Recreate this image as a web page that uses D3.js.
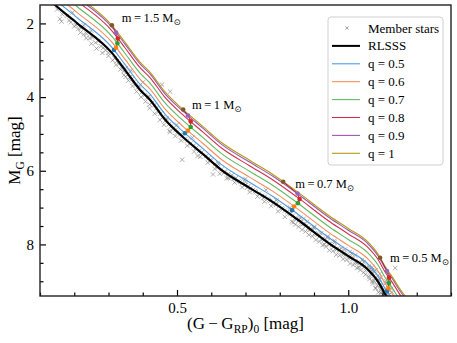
<!DOCTYPE html>
<html>
<head>
<meta charset="utf-8">
<script src="https://cdn.jsdelivr.net/npm/d3@7"></script>
<style>
  body { margin: 0; background: #fff; }
  svg text { font-family: "Liberation Serif", "Times New Roman", serif; fill: #000; }
</style>
</head>
<body>
<div id="chart"></div>
<script>
// colour grid shared by the sequences, (G - G_RP)_0
var seqColor = [0.13, 0.144, 0.208, 0.31, 0.348, 0.392, 0.421, 0.465, 0.518, 0.576, 0.631, 0.713,
                0.78, 0.85, 0.947, 0.999, 1.055, 1.087, 1.107, 1.13, 1.15, 1.17, 1.19];
// single star sequence (RLSSS), M_G
var rlsssMag = [1.38, 1.50, 1.99, 2.80, 3.26, 3.80, 4.07, 4.61, 5.09, 5.55, 5.99, 6.47,
                6.85, 7.31, 7.99, 8.31, 8.66, 9.01, 9.34, 9.65, 9.95, 10.20, 10.45];
// binary sequences, M_G
var q05Mag = [1.23, 1.35, 1.84, 2.65, 3.11, 3.65, 3.92, 4.46, 4.94, 5.40, 5.84, 6.32, 6.70, 7.16, 7.84, 8.16, 8.51, 8.86, 9.19, 9.50, 9.80, 10.05, 10.30];
var q06Mag = [1.09, 1.21, 1.70, 2.51, 2.97, 3.51, 3.78, 4.32, 4.80, 5.26, 5.70, 6.18, 6.56, 7.02, 7.70, 8.02, 8.37, 8.72, 9.05, 9.36, 9.66, 9.91, 10.16];
var q07Mag = [0.93, 1.05, 1.54, 2.35, 2.81, 3.35, 3.62, 4.16, 4.64, 5.10, 5.54, 6.02, 6.40, 6.86, 7.54, 7.86, 8.21, 8.56, 8.89, 9.20, 9.50, 9.75, 10.00];
var q08Mag = [0.78, 0.90, 1.39, 2.20, 2.66, 3.20, 3.47, 4.01, 4.49, 4.95, 5.39, 5.87, 6.25, 6.71, 7.39, 7.71, 8.06, 8.41, 8.74, 9.05, 9.35, 9.60, 9.85];
var q09Mag = [0.68, 0.80, 1.29, 2.10, 2.56, 3.10, 3.37, 3.91, 4.39, 4.85, 5.29, 5.77, 6.15, 6.61, 7.29, 7.61, 7.96, 8.31, 8.64, 8.95, 9.25, 9.50, 9.75];
var q10Mag = [0.63, 0.75, 1.24, 2.05, 2.51, 3.05, 3.32, 3.86, 4.34, 4.80, 5.24, 5.72, 6.10, 6.56, 7.24, 7.56, 7.91, 8.26, 8.59, 8.90, 9.20, 9.45, 9.70];

var qLabels = ["q = 0.5", "q = 0.6", "q = 0.7", "q = 0.8", "q = 0.9", "q = 1"];
var qColors = ["#4f9be0", "#f58c5e", "#5dbb63", "#d0304f", "#9b59b6", "#b69a12"];
var qMarkerColors = ["#1f77b4", "#ff7f0e", "#2ca02c", "#d62728", "#9467bd", "#7d5a2a"];

// primary-mass tracks (q = 0.5 ... 1)
var massLabels = ["1.5", "1", "0.7", "0.5"];
var trackColor = [
  [0.316, 0.322, 0.326, 0.327, 0.322, 0.310],
  [0.523, 0.532, 0.540, 0.540, 0.532, 0.518],
  [0.836, 0.842, 0.853, 0.858, 0.852, 0.810],
  [1.113, 1.117, 1.119, 1.119, 1.113, 1.093]
];
var trackMag = [
  [2.72, 2.66, 2.54, 2.41, 2.25, 2.05],
  [4.98, 4.91, 4.81, 4.66, 4.50, 4.34],
  [7.07, 6.97, 6.88, 6.77, 6.62, 6.30],
  [9.27, 9.19, 9.05, 8.90, 8.72, 8.36]
];

// member stars
var starColor = [0.150,0.158,0.163,0.178,0.190,0.205,0.212,0.220,0.228,0.236,0.245,0.252,0.262,0.270,0.278,0.285,0.292,0.300,0.228,0.250,0.195,
  0.318,0.325,0.330,0.338,0.345,0.350,0.356,0.362,0.368,0.372,0.380,0.386,0.390,0.396,0.405,0.412,0.418,0.366,0.400,0.456,0.480,
  0.428,0.434,0.440,0.446,0.452,0.458,0.466,0.470,0.476,0.482,0.488,0.495,0.500,0.508,0.515,0.524,0.530,0.540,0.548,0.556,0.565,0.572,0.515,0.500,0.545,
  0.585,0.592,0.600,0.605,0.612,0.620,0.630,0.640,0.650,0.660,0.665,0.672,0.680,0.690,0.700,0.705,0.715,0.722,0.730,0.740,0.748,0.757,0.765,0.772,0.782,0.790,0.798,0.806,0.815,0.822,0.830,0.838,0.846,0.700,0.760,0.830,
  0.855,0.862,0.870,0.876,0.884,0.890,0.896,0.902,0.910,0.916,0.924,0.930,0.938,0.944,0.952,0.958,0.966,0.972,0.980,0.986,0.992,1.000,1.006,1.012,1.020,1.026,1.032,1.040,1.046,1.052,1.058,1.064,1.070,1.074,1.080,1.085,1.090,1.094,1.098,1.102,1.106,1.110,1.100,1.112,1.090,1.075,1.060,0.990,0.960,0.920,0.880,1.040,1.095,1.137,1.118,1.110,1.068,1.005,0.940,0.900,1.080,1.115,1.120,
  0.840,0.930,1.030,1.070,1.095,0.650,0.560,0.480,0.420,0.350,
  0.590,0.610,0.625,0.645,0.668,0.690,0.712,0.735,0.755,0.775,0.795,0.815,0.835,0.855,0.875,0.895,0.915,0.935,0.955,0.975,0.995,1.015,1.035,1.050,1.062,1.072,1.080,1.088,
  0.598,0.618,0.638,0.658,0.685,0.708,0.728,0.752,0.768,0.788,0.808,0.828,0.848,0.866,0.886,0.906,0.926,0.946,0.966,0.986,1.004,1.022,1.038,1.054,1.066,1.078,1.088,1.096,1.104,1.112,
  0.620,0.700,0.790,0.870,0.960,1.020,1.080,1.110,1.125,
  0.300,0.312,0.322,0.335,0.345,0.358,0.370,0.382,0.395,0.408,0.420,0.435,0.450,0.462,0.478,0.495,0.512,0.530,0.550,0.568,
  0.165,0.185,0.200,0.218,0.235,0.250,0.265,0.282,
  0.845,0.865,0.885,0.905,0.925,0.945,0.965,0.985,1.005,1.025,1.045,1.060,1.075,1.085,1.094,1.102,
  0.860,0.900,0.940,0.980,1.010,1.045,1.070,1.092,1.118,1.128];
var starMag = [1.62,1.88,1.95,1.80,1.97,2.05,2.15,2.12,2.30,2.28,2.40,2.38,2.52,2.48,2.62,2.66,2.73,2.80,2.05,2.20,1.70,
  2.95,3.02,3.10,3.18,3.30,3.22,3.38,3.46,3.52,3.60,3.66,3.74,3.70,3.88,3.95,4.02,3.98,3.28,3.60,3.66,3.85,
  4.15,4.22,4.30,4.40,4.45,4.55,4.64,4.58,4.74,4.80,4.86,4.90,4.96,5.02,5.06,5.14,5.18,5.26,5.32,5.38,5.46,5.50,5.70,4.75,5.10,
  5.60,5.66,5.72,6.10,5.82,5.90,5.96,6.02,6.08,6.12,6.22,6.20,6.28,6.34,6.38,6.46,6.48,6.52,6.58,6.62,6.68,6.70,6.76,6.82,6.86,6.92,6.96,7.02,7.08,7.12,7.18,7.22,7.28,6.22,6.52,7.00,
  7.35,7.40,7.44,7.50,7.54,7.60,7.62,7.70,7.74,7.78,7.84,7.88,7.92,7.98,8.02,8.06,8.12,8.16,8.20,8.24,8.28,8.32,8.38,8.40,8.46,8.50,8.52,8.58,8.62,8.64,8.70,8.76,8.82,8.86,8.92,8.98,9.04,9.10,9.16,9.22,9.28,9.34,9.36,9.38,8.96,8.74,8.60,8.14,7.95,7.70,7.38,8.42,8.90,8.64,9.10,9.05,8.70,8.20,7.78,7.52,9.20,9.28,9.36,
  7.40,8.00,8.62,9.00,9.32,6.20,5.60,4.95,4.20,3.45,
  5.78,5.95,6.08,6.20,6.32,6.45,6.58,6.70,6.84,6.96,7.10,7.25,7.38,7.52,7.65,7.78,7.92,8.06,8.18,8.30,8.42,8.56,8.70,8.82,8.94,9.06,9.18,9.30,
  5.70,5.86,6.05,6.18,6.30,6.42,6.55,6.74,6.80,6.90,7.05,7.15,7.31,7.46,7.60,7.72,7.86,8.00,8.14,8.27,8.35,8.48,8.56,8.68,8.80,8.90,9.02,9.12,9.26,9.30,
  5.80,6.30,6.80,7.30,7.90,8.30,8.70,9.00,9.20,
  2.88,3.00,3.12,3.25,3.40,3.55,3.70,3.85,4.00,4.12,4.30,4.45,4.62,4.75,4.92,5.06,5.18,5.32,5.48,5.62,
  1.75,1.92,2.08,2.25,2.40,2.55,2.68,2.80,
  7.46,7.60,7.74,7.88,8.02,8.16,8.28,8.40,8.52,8.64,8.76,8.88,9.00,9.12,9.24,9.36,
  7.28,7.55,7.82,8.10,8.25,8.48,8.62,8.80,8.98,9.30];

var xMajor = [0.5, 1.0];
var xMinor = [0.1, 0.2, 0.3, 0.4, 0.6, 0.7, 0.8, 0.9, 1.1, 1.2, 1.3];
var yMajor = [2, 4, 6, 8];
var yMinor = [2.5, 3, 3.5, 4.5, 5, 5.5, 6.5, 7, 7.5, 8.5, 9];

var serif = '"Liberation Serif", "Times New Roman", serif';
var svgWidth = 457, svgHeight = 343;
var margin = { top: 5, right: 6, bottom: 47, left: 40 };
var width = svgWidth - margin.left - margin.right;
var height = svgHeight - margin.top - margin.bottom;

var svg = d3.select("#chart").append("svg")
  .attr("width", svgWidth)
  .attr("height", svgHeight)
  .attr("font-family", serif);

var chartGroup = svg.append("g")
  .attr("transform", `translate(${margin.left}, ${margin.top})`);

var xScale = d3.scaleLinear().domain([0.1, 1.3]).range([0, width]);
var yScale = d3.scaleLinear().domain([1.5, 9.4]).range([0, height]);

svg.append("defs").append("clipPath").attr("id", "plotclip")
  .append("rect").attr("width", width).attr("height", height);

var plot = chartGroup.append("g").attr("clip-path", "url(#plotclip)");

// member stars
var starPath = "M-2.2,-2.2L2.2,2.2M-2.2,2.2L2.2,-2.2";
plot.selectAll(".star")
  .data(starColor.map((c, i) => [c, starMag[i]]))
  .enter().append("path")
  .attr("d", starPath)
  .attr("transform", d => `translate(${xScale(d[0])},${yScale(d[1])})`)
  .attr("stroke", "#7a7a7a")
  .attr("stroke-width", 0.85)
  .attr("opacity", 0.7)
  .attr("fill", "none");

var line = d3.line()
  .x(d => xScale(d[0]))
  .y(d => yScale(d[1]))
  .curve(d3.curveMonotoneX);

var binaryMags = [q05Mag, q06Mag, q07Mag, q08Mag, q09Mag, q10Mag];
binaryMags.forEach(function(mags, i) {
  plot.append("path")
    .datum(seqColor.map((c, j) => [c, mags[j]]))
    .attr("d", line)
    .attr("fill", "none")
    .attr("stroke", qColors[i])
    .attr("stroke-width", 1.1);
});

// single star sequence
plot.append("path")
  .datum(seqColor.map((c, j) => [c, rlsssMag[j]]))
  .attr("d", line)
  .attr("fill", "none")
  .attr("stroke", "#000")
  .attr("stroke-width", 2.2);

// mass tracks and markers
var trackLine = d3.line().x(d => xScale(d[0])).y(d => yScale(d[1]));
trackColor.forEach(function(cs, k) {
  var pts = cs.map((c, i) => [c, trackMag[k][i]]);
  plot.append("path")
    .datum(pts)
    .attr("d", trackLine)
    .attr("fill", "none")
    .attr("stroke", "#b0203a")
    .attr("stroke-width", 1);
  plot.selectAll(null)
    .data(pts)
    .enter().append("circle")
    .attr("cx", d => xScale(d[0]))
    .attr("cy", d => yScale(d[1]))
    .attr("r", 2.3)
    .attr("fill", (d, i) => qMarkerColors[i]);
});

// mass labels
var labelPos = [[0.339, 1.96], [0.544, 4.32], [0.845, 6.47], [1.122, 8.48]];
massLabels.forEach(function(m, k) {
  var t = chartGroup.append("text")
    .attr("x", xScale(labelPos[k][0]))
    .attr("y", yScale(labelPos[k][1]))
    .attr("font-family", serif)
    .attr("font-size", "12.5px");
  t.append("tspan").text("m\u2009=\u2009" + m + " M");
  t.append("tspan").attr("dy", 3).attr("font-size", "8.5px")
    .attr("font-family", "DejaVu Sans").text("\u2299");
});

// axes, ticks inward
var xAxis = d3.axisBottom(xScale).tickValues(xMajor).tickSize(-6).tickPadding(6)
  .tickFormat(d3.format(".1f"));
var xAxisMinor = d3.axisBottom(xScale).tickValues(xMinor).tickSize(-3.5).tickFormat("");
var yAxis = d3.axisLeft(yScale).tickValues(yMajor).tickSize(-6).tickPadding(6)
  .tickFormat(d3.format("d"));
var yAxisMinor = d3.axisLeft(yScale).tickValues(yMinor).tickSize(-3.5).tickFormat("");

function styleAxis(g) {
  g.attr("font-family", serif);
  g.select(".domain").remove();
  g.selectAll("line").attr("stroke", "#000").attr("stroke-width", 1.2);
  g.selectAll("text").attr("font-size", "15px").attr("fill", "#000");
}
[xAxis, xAxisMinor].forEach(function(ax) {
  chartGroup.append("g").attr("transform", `translate(0, ${height})`).call(ax).call(styleAxis);
});
[yAxis, yAxisMinor].forEach(function(ax) {
  chartGroup.append("g").call(ax).call(styleAxis);
});

// frame
chartGroup.append("rect")
  .attr("width", width).attr("height", height)
  .attr("fill", "none").attr("stroke", "#222").attr("stroke-width", 1.4);

// axis labels
var xl = svg.append("text")
  .attr("x", margin.left + width / 2)
  .attr("y", 329)
  .attr("text-anchor", "middle")
  .attr("font-size", "17px");
xl.append("tspan").text("(G\u2009\u2212\u2009G");
xl.append("tspan").attr("dy", 4).attr("font-size", "11.5px").text("RP");
xl.append("tspan").attr("dy", -4).text(")");
xl.append("tspan").attr("dy", 4).attr("font-size", "11.5px").text("0");
xl.append("tspan").attr("dy", -4).text(" [mag]");

var yl = svg.append("text")
  .attr("transform", `translate(20, ${margin.top + height / 2}) rotate(-90)`)
  .attr("text-anchor", "middle")
  .attr("font-size", "17px");
yl.append("tspan").text("M");
yl.append("tspan").attr("dy", 4).attr("font-size", "11.5px").text("G");
yl.append("tspan").attr("dy", -4).text(" [mag]");

// legend
var legend = svg.append("g").attr("transform", "translate(328, 17)");
legend.append("rect")
  .attr("width", 115).attr("height", 148).attr("rx", 3)
  .attr("fill", "#fff").attr("fill-opacity", 0.85)
  .attr("stroke", "#cfcfcf").attr("stroke-width", 1);

var legendItems = ["Member stars", "RLSSS"].concat(qLabels);
var legendColors = ["#8c8c8c", "#000"].concat(qColors);
legendItems.forEach(function(name, i) {
  var yy = 11 + i * 17.9;
  if (i === 0) {
    legend.append("path").attr("d", "M-1.6,-1.6L1.6,1.6M-1.6,1.6L1.6,-1.6")
      .attr("transform", `translate(19, ${yy})`)
      .attr("stroke", "#8c8c8c").attr("stroke-width", 0.8).attr("fill", "none");
  } else {
    legend.append("line")
      .attr("x1", 4).attr("x2", 32).attr("y1", yy).attr("y2", yy)
      .attr("stroke", legendColors[i])
      .attr("stroke-width", i === 1 ? 2 : 1.1);
  }
  legend.append("text")
    .attr("x", 40).attr("y", yy + 4.5)
    .attr("font-family", serif)
    .attr("font-size", "13px")
    .text(name);
});
</script>
</body>
</html>
